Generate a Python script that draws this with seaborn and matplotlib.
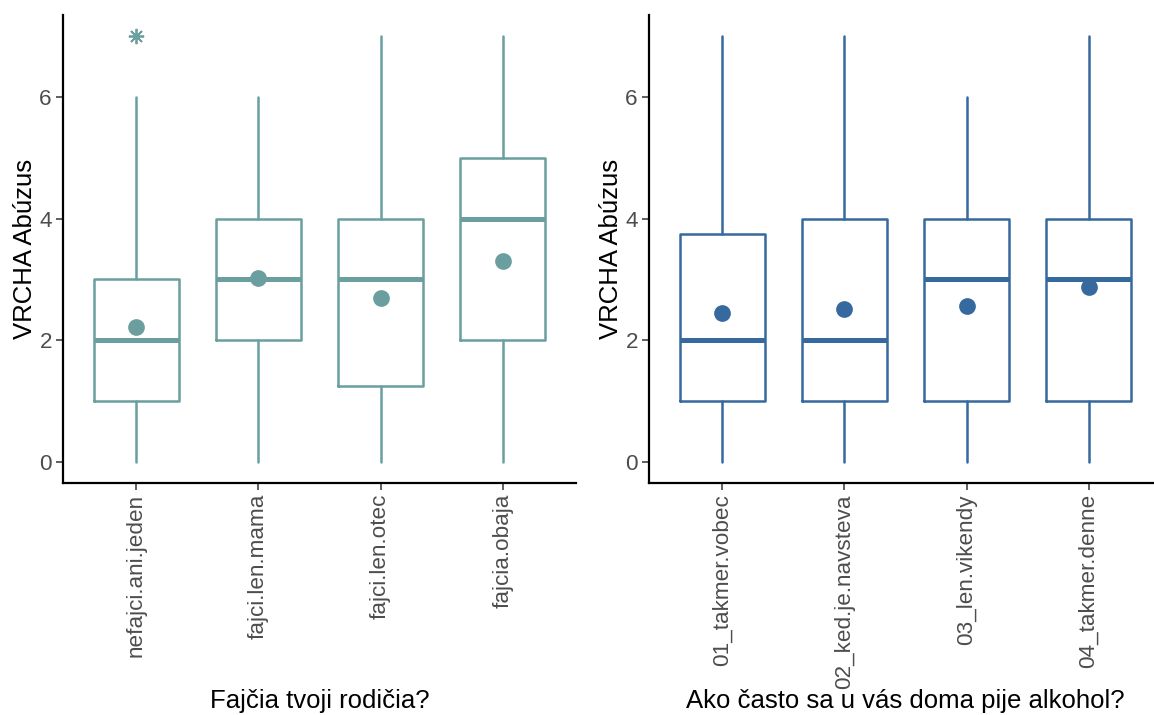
import matplotlib
matplotlib.use("Agg")
import matplotlib.pyplot as plt
import seaborn as sns

# left panel: smoking parents
parents_cats = ["nefajci.ani.jeden", "fajci.len.mama", "fajci.len.otec", "fajcia.obaja"]
parents_whislo = [0, 0, 0, 0]
parents_q1 = [1, 2, 1.25, 2]
parents_med = [2, 3, 3, 4]
parents_q3 = [3, 4, 4, 5]
parents_whishi = [6, 6, 7, 7]
parents_mean = [2.22, 3.02, 2.69, 3.31]
parents_fliers = [[7], [], [], []]

# right panel: alcohol at home
alcohol_cats = ["01_takmer.vobec", "02_ked.je.navsteva", "03_len.vikendy", "04_takmer.denne"]
alcohol_whislo = [0, 0, 0, 0]
alcohol_q1 = [1, 1, 1, 1]
alcohol_med = [2, 2, 3, 3]
alcohol_q3 = [3.75, 4, 4, 4]
alcohol_whishi = [7, 7, 6, 7]
alcohol_mean = [2.44, 2.52, 2.57, 2.87]
alcohol_fliers = [[], [], [], []]

ylabel = "VRCHA Abúzus"

sns.set_style("ticks")
plt.rcParams["font.family"] = ["Liberation Sans", "DejaVu Sans"]

fig = plt.figure(figsize=(11.54, 7.15), dpi=100)
W, H = 1154, 715
ax1 = fig.add_axes([63 / W, (H - 483) / H, 513 / W, 468 / H])
ax2 = fig.add_axes([649 / W, (H - 483) / H, 513 / W, 468 / H])


def panel(ax, cats, lo, q1, med, q3, hi, means, fliers, color, xlabel):
    sns.pointplot(x=cats, y=means, ax=ax, color=color, linestyle="none",
                  markers="o", markersize=10, errorbar=None, zorder=5)
    stats = []
    for i in range(len(cats)):
        stats.append(dict(whislo=lo[i], q1=q1[i], med=med[i], q3=q3[i],
                          whishi=hi[i], fliers=fliers[i]))
    ax.bxp(stats, positions=range(len(cats)), widths=0.7, manage_ticks=False,
           showcaps=False, patch_artist=False,
           boxprops=dict(color=color, linewidth=1.8),
           whiskerprops=dict(color=color, linewidth=1.8),
           medianprops=dict(color=color, linewidth=3.6),
           flierprops=dict(marker=(8, 2, 0), markeredgecolor=color,
                           markerfacecolor=color, markersize=11,
                           markeredgewidth=1.3, linestyle="none"))
    ax.set_xlim(-0.6, len(cats) - 0.4)
    ax.set_ylim(-0.35, 7.35)
    ax.set_yticks([0, 2, 4, 6])
    ax.set_xticks(range(len(cats)))
    ax.set_xticklabels(cats, rotation=90, ha="center", va="top")
    ax.tick_params(axis="both", labelsize=16.2, labelcolor="#4D4D4D",
                   color="#333333", length=5, width=1.1, pad=3)
    for s in ["left", "bottom"]:
        ax.spines[s].set_linewidth(1.6)
        ax.spines[s].set_color("black")
    sns.despine(ax=ax)
    ax.set_xlabel(xlabel, fontsize=18.5, color="black")
    ax.set_ylabel(ylabel, fontsize=18.5, color="black")
    ax.xaxis.label.set_va("center")
    ax.yaxis.label.set_va("center")
    ax.xaxis.set_label_coords(0.5, -(701 - 483) / 468)
    ax.yaxis.set_label_coords(-(63 - 25) / 513, 0.5)


panel(ax1, parents_cats, parents_whislo, parents_q1, parents_med, parents_q3,
      parents_whishi, parents_mean, parents_fliers, "#6B9E9E",
      "Fajčia tvoji rodičia?")
panel(ax2, alcohol_cats, alcohol_whislo, alcohol_q1, alcohol_med, alcohol_q3,
      alcohol_whishi, alcohol_mean, alcohol_fliers, "#36699E",
      "Ako často sa u vás doma pije alkohol?")

fig.savefig("out.png", dpi=100)
